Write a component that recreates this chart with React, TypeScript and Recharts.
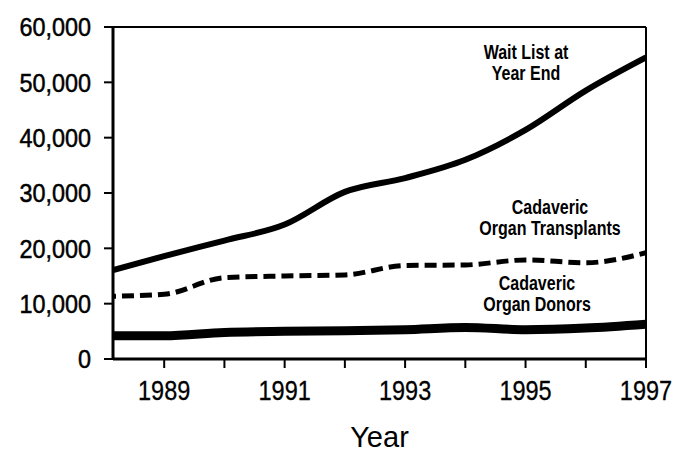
import React from 'react';
import { LineChart, Line, XAxis, YAxis, ReferenceLine } from 'recharts';

// Valores (aprox.)
const years = [1988, 1989, 1990, 1991, 1992, 1993, 1994, 1995, 1996, 1997];
const waitList = [15600, 18600, 21400, 24300, 30200, 32700, 36000, 41400, 48500, 54500];
const transplants = [11300, 11700, 14700, 15000, 15200, 16900, 17000, 17900, 17400, 19200];
const donors = [4200, 4200, 4800, 5000, 5100, 5300, 5700, 5300, 5600, 6300];

const yTicks = [0, 10000, 20000, 30000, 40000, 50000, 60000];
const xTicks = [1989, 1990, 1991, 1992, 1993, 1994, 1995, 1996, 1997];
const xLabeled = [1989, 1991, 1993, 1995, 1997];

const data = years.map((year, i) => ({
  year,
  waitList: waitList[i],
  transplants: transplants[i],
  donors: donors[i],
}));

const FONT = '"Liberation Sans", Arial, sans-serif';

const YTick = (props: any) => {
  const { x, y, payload } = props;
  return (
    <g transform={`translate(${x},${y})`}>
      <text textAnchor="end" dy="0.36em" transform="scale(0.9,1)" fontSize={26} fontFamily={FONT}
        fill="#000" stroke="#000" strokeWidth={0.5}>
        {Number(payload.value).toLocaleString('en-US')}
      </text>
    </g>
  );
};

const XTick = (props: any) => {
  const { x, y, payload } = props;
  if (!xLabeled.includes(payload.value)) return <g />;
  return (
    <g transform={`translate(${x},${y})`}>
      <text textAnchor="middle" dy="0.71em" transform="scale(0.84,1)" fontSize={28} fontFamily={FONT}
        fill="#000" stroke="#000" strokeWidth={0.3}>
        {payload.value}
      </text>
    </g>
  );
};

const noteStyle: React.CSSProperties = {
  position: 'absolute',
  fontFamily: FONT,
  fontWeight: 'bold',
  fontSize: 20,
  lineHeight: '21px',
  textAlign: 'center',
  color: '#000',
  transform: 'translateX(-50%) scaleX(0.8)',
  whiteSpace: 'nowrap',
};

export default function App() {
  return (
    <div style={{ position: 'absolute', left: 0, top: 0, width: 688, height: 452, background: '#fff' }}>
      <LineChart width={688} height={452} data={data} margin={{ top: 27, right: 42, left: 0, bottom: 0 }}>
        <XAxis
          dataKey="year"
          type="number"
          domain={[1988.15, 1997]}
          allowDataOverflow
          ticks={xTicks}
          height={93}
          tickSize={9}
          tickMargin={12}
          axisLine={{ stroke: '#000', strokeWidth: 3 }}
          tickLine={{ stroke: '#000', strokeWidth: 2 }}
          tick={<XTick />}
          label={{ value: 'Year', position: 'insideBottom', offset: 5, fill: '#000', fontSize: 29, fontFamily: FONT }}
        />
        <YAxis
          domain={[0, 60000]}
          ticks={yTicks}
          width={113}
          tickSize={9}
          tickMargin={13}
          axisLine={{ stroke: '#000', strokeWidth: 3 }}
          tickLine={{ stroke: '#000', strokeWidth: 2 }}
          tick={<YTick />}
        />
        <ReferenceLine y={60000} stroke="#000" strokeWidth={2} />
        <ReferenceLine x={1997} stroke="#000" strokeWidth={2} />
        <Line type="monotone" dataKey="waitList" stroke="#000" strokeWidth={6} dot={false} isAnimationActive={false} />
        <Line type="monotone" dataKey="transplants" stroke="#000" strokeWidth={5} strokeDasharray="12 6" dot={false} isAnimationActive={false} />
        <Line type="monotone" dataKey="donors" stroke="#000" strokeWidth={9} dot={false} isAnimationActive={false} />
      </LineChart>
      <div style={{ ...noteStyle, left: 526, top: 42 }}>Wait List at<br />Year End</div>
      <div style={{ ...noteStyle, left: 550, top: 197 }}>Cadaveric<br />Organ Transplants</div>
      <div style={{ ...noteStyle, left: 537, top: 273 }}>Cadaveric<br />Organ Donors</div>
    </div>
  );
}
